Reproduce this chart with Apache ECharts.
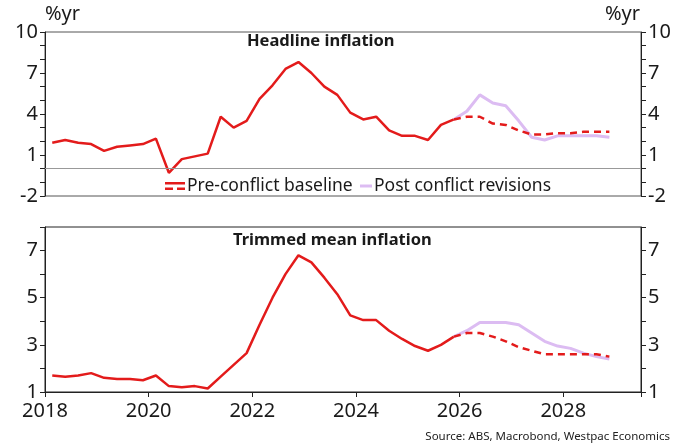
<!DOCTYPE html>
<html><head><meta charset="utf-8">
<script src="https://cdn.jsdelivr.net/npm/echarts@6/dist/echarts.min.js"></script>
<style>html,body{margin:0;padding:0;background:#fff}#c{width:685px;height:447px}</style>
</head><body><div id="c"></div>
<script>
const quarters = ["2018Q1","2018Q2","2018Q3","2018Q4","2019Q1","2019Q2","2019Q3","2019Q4",
"2020Q1","2020Q2","2020Q3","2020Q4","2021Q1","2021Q2","2021Q3","2021Q4",
"2022Q1","2022Q2","2022Q3","2022Q4","2023Q1","2023Q2","2023Q3","2023Q4",
"2024Q1","2024Q2","2024Q3","2024Q4","2025Q1","2025Q2","2025Q3","2025Q4",
"2026Q1","2026Q2","2026Q3","2026Q4","2027Q1","2027Q2","2027Q3","2027Q4",
"2028Q1","2028Q2","2028Q3","2028Q4"];
// history: 2018Q1..2025Q4 ; forecasts: 2025Q4..2028Q4
const headlineHist = [1.9,2.1,1.9,1.8,1.3,1.6,1.7,1.8,2.2,-0.3,0.7,0.9,1.1,3.8,3.0,3.5,5.1,6.1,7.3,7.8,7.0,6.0,5.4,4.1,3.6,3.8,2.8,2.4,2.4,2.1,3.2,3.6];
const headlineBase = [3.6,3.8,3.8,3.3,3.2,2.8,2.5,2.5,2.6,2.6,2.7,2.7,2.7];
const headlinePost = [3.6,4.2,5.4,4.8,4.6,3.5,2.3,2.1,2.4,2.4,2.4,2.4,2.3];
const trimHist = [1.7,1.65,1.7,1.8,1.6,1.55,1.55,1.5,1.7,1.25,1.2,1.25,1.15,1.65,2.15,2.65,3.85,5.0,6.0,6.8,6.5,5.85,5.15,4.25,4.05,4.05,3.6,3.25,2.95,2.75,3.0,3.35];
const trimBase = [3.35,3.5,3.5,3.35,3.15,2.9,2.75,2.6,2.6,2.6,2.6,2.6,2.5];
const trimPost = [3.35,3.6,3.95,3.95,3.95,3.85,3.5,3.15,2.95,2.85,2.65,2.5,2.4];
const topTicks = [-2,1,4,7,10];
const botTicks = [1,3,5,7];
const xTicks = [2018,2020,2022,2024,2026,2028];

function qx(q){ const y=+q.slice(0,4), n=+q.slice(5); return y+(n-1)*0.25+0.14; }
const fcStart = quarters.indexOf("2025Q4");
function pairs(arr, off){ return arr.map((v,i)=>[qx(quarters[off+i]), v]); }

const RED='#e31b1b', PURPLE='#dcbcf2';
const FONT='Noto Sans';
const lab = {color:'#1a1a1a', fontSize:20, fontFamily:FONT};
function yAx(gi, pos, min, max, ticks){
  return {type:'value', gridIndex:gi, position:pos, min:min, max:max, interval:1,
    axisLine:{show:true, lineStyle:{color:'#222', width:1}},
    axisTick:{show:true, length:5, lineStyle:{color:'#222'}},
    axisLabel:Object.assign({margin:7, formatter:v=>ticks.includes(v)?String(v):''}, lab),
    splitLine:{show:false}};
}
const legText = {fontSize:17.5, color:'#1a1a1a', fontFamily:FONT, padding:[0,0,0,-3]};
const chart = echarts.init(document.getElementById('c'));
chart.setOption({
  animation:false,
  textStyle:{fontFamily:FONT},
  grid:[
    {left:45, right:44, top:32, height:164, show:true, borderColor:'#555', borderWidth:1},
    {left:45, right:44, top:227, height:165, show:true, borderColor:'#222', borderWidth:1}
  ],
  xAxis:[
    {type:'value', gridIndex:0, min:2018, max:2029.5, interval:2,
     axisLine:{show:true, lineStyle:{color:'#222'}}, axisTick:{show:false}, axisLabel:{show:false}, splitLine:{show:false}},
    {type:'value', gridIndex:1, min:2018, max:2029.5, interval:2,
     axisLine:{show:true, lineStyle:{color:'#222'}}, axisTick:{show:true, length:5, lineStyle:{color:'#222'}},
     axisLabel:Object.assign({margin:9, formatter:v=>xTicks.includes(v)?String(v):''}, lab), splitLine:{show:false}}
  ],
  yAxis:[
    yAx(0,'left',-2,10,topTicks), yAx(0,'right',-2,10,topTicks),
    yAx(1,'left',1,8,botTicks), yAx(1,'right',1,8,botTicks)
  ],
  legend:[
    {left:160, top:172, itemWidth:20, itemHeight:8, itemGap:4,
     icon:'path://M0,0H20V2.5H0Z M0,5.5H8V8H0Z M12,5.5H20V8H12Z',
     textStyle:legText, data:['Pre-conflict baseline']},
    {left:355, top:172, itemWidth:12, itemHeight:3, itemGap:4, icon:'rect',
     textStyle:legText, data:['Post conflict revisions']}
  ],
  graphic:[
    {type:'text', left:45, top:4, style:{text:'%yr', fontSize:20, fill:'#1a1a1a', fontFamily:FONT}},
    {type:'text', right:45, top:4, style:{text:'%yr', fontSize:20, fill:'#1a1a1a', fontFamily:FONT}},
    {type:'text', left:247, top:33, style:{text:'Headline inflation', fontSize:16.5, fontWeight:'bold', fill:'#1a1a1a', fontFamily:FONT}},
    {type:'text', left:233, top:232, style:{text:'Trimmed mean inflation', fontSize:16.5, fontWeight:'bold', fill:'#1a1a1a', fontFamily:FONT}},
    {type:'text', right:15, top:431, style:{text:'Source: ABS, Macrobond, Westpac Economics', fontSize:11.5, fill:'#222', fontFamily:FONT}}
  ],
  series:[
    {name:'hist1', type:'line', xAxisIndex:0, yAxisIndex:0, data:pairs(headlineHist,0), symbol:'none',
     lineStyle:{color:RED, width:2.5}, itemStyle:{color:RED}, z:3,
     markLine:{silent:true, symbol:'none', label:{show:false}, lineStyle:{color:'#999', width:1, type:'solid'}, data:[{yAxis:0}]}},
    {name:'Post conflict revisions', type:'line', xAxisIndex:0, yAxisIndex:0, data:pairs(headlinePost,fcStart), symbol:'none',
     lineStyle:{color:PURPLE, width:3}, itemStyle:{color:PURPLE}, z:4},
    {name:'Pre-conflict baseline', type:'line', xAxisIndex:0, yAxisIndex:0, data:pairs(headlineBase,fcStart), symbol:'none',
     lineStyle:{color:RED, width:2.5, type:[7,5]}, itemStyle:{color:RED}, z:5},
    {name:'hist2', type:'line', xAxisIndex:1, yAxisIndex:2, data:pairs(trimHist,0), symbol:'none',
     lineStyle:{color:RED, width:2.5}, itemStyle:{color:RED}, z:3},
    {name:'Post conflict revisions', type:'line', xAxisIndex:1, yAxisIndex:2, data:pairs(trimPost,fcStart), symbol:'none',
     lineStyle:{color:PURPLE, width:3}, itemStyle:{color:PURPLE}, z:4},
    {name:'Pre-conflict baseline', type:'line', xAxisIndex:1, yAxisIndex:2, data:pairs(trimBase,fcStart), symbol:'none',
     lineStyle:{color:RED, width:2.5, type:[7,5]}, itemStyle:{color:RED}, z:5}
  ]
});
</script></body></html>
